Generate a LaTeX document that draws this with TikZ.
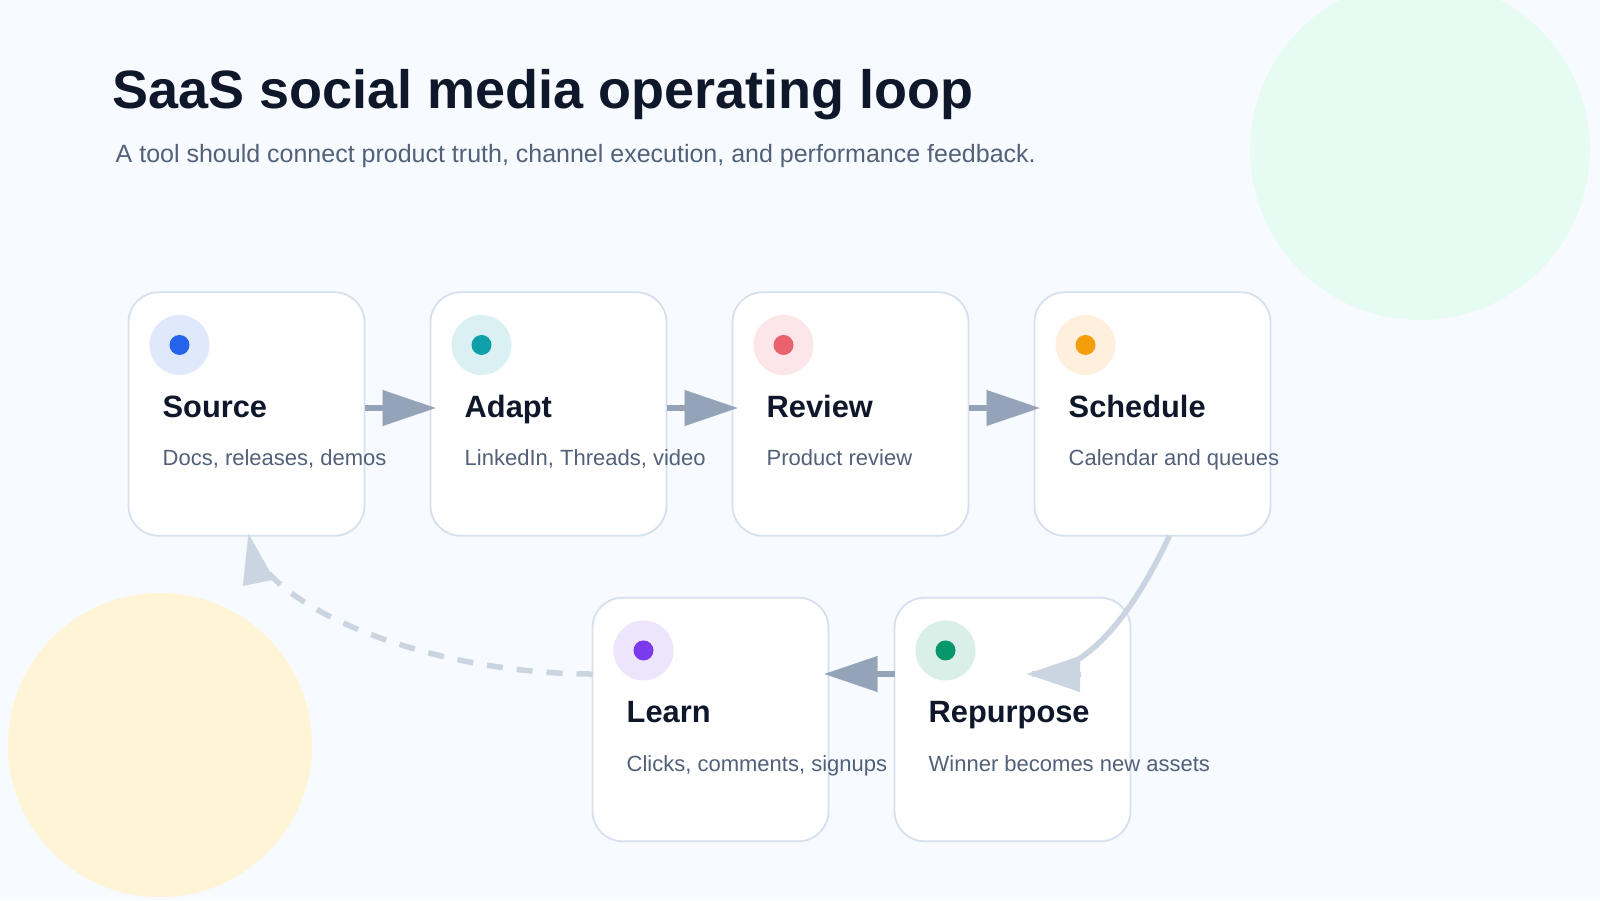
\documentclass[tikz,border=0pt]{standalone}
\usepackage{fontspec}
\setmainfont{Liberation Sans}
\usetikzlibrary{arrows.meta, positioning, calc}

\definecolor{pagebg}{HTML}{F7FAFF}
\definecolor{cardline}{HTML}{D6E0EE}
\definecolor{ink}{HTML}{0F172A}
\definecolor{muted}{HTML}{526179}
\definecolor{flowgray}{HTML}{94A3B8}
\definecolor{loopgray}{HTML}{CBD5E1}
\definecolor{mintblob}{HTML}{E6FCF3}
\definecolor{sandblob}{HTML}{FFF4D6}
\definecolor{blueSoft}{HTML}{E0E8FB}
\definecolor{blueDot}{HTML}{2563EB}
\definecolor{tealSoft}{HTML}{DAF0F2}
\definecolor{tealDot}{HTML}{0E9FAA}
\definecolor{roseSoft}{HTML}{FCE6E9}
\definecolor{roseDot}{HTML}{E9636F}
\definecolor{amberSoft}{HTML}{FEF0DC}
\definecolor{amberDot}{HTML}{F59E0B}
\definecolor{violetSoft}{HTML}{EDE5FB}
\definecolor{violetDot}{HTML}{7C3AED}
\definecolor{greenSoft}{HTML}{D9EFE8}
\definecolor{greenDot}{HTML}{059669}

\begin{document}
\begin{tikzpicture}[x=1pt, y=-1pt,
    card/.style={draw=cardline, line width=1.8pt, fill=white, rounded corners=30pt,
      minimum width=236pt, minimum height=243.5pt, inner sep=0pt, outer sep=0pt},
    iconring/.style={circle, minimum size=60pt, inner sep=0pt},
    icondot/.style={circle, minimum size=20pt, inner sep=0pt},
    cardtitle/.style={anchor=base west, inner sep=0pt, text=ink, font=\fontsize{30.8}{36}\selectfont\bfseries},
    carddesc/.style={anchor=base west, inner sep=0pt, text=muted, font=\fontsize{22}{26}\selectfont},
    flow/.style={draw=flowgray, line width=6pt, -{Triangle[length=53pt, width=36pt, line width=0.1pt]}},
    loopline/.style={draw=loopgray, line width=5.5pt},
    loophead/.style={draw=loopgray, line width=5pt, -{Triangle[length=53pt, width=36pt, line width=0.1pt]}},
    backhead/.style={draw=loopgray, line width=5pt, -{Triangle[length=50pt, width=32pt, line width=0.1pt]}}
  ]
  % page and soft blobs
  \useasboundingbox (0,0) rectangle (1600,900);
  \clip (0,0) rectangle (1600,900);
  \fill[pagebg] (0,0) rectangle (1600,900);
  \fill[mintblob] (1420,150) circle[radius=170pt];
  \fill[sandblob] (160,745) circle[radius=152pt];

  % heading
  \node[anchor=base west, inner sep=0pt, text=ink, font=\fontsize{54}{60}\selectfont\bfseries] (heading) at (112,108.5) {SaaS social media operating loop};
  \node[anchor=base west, inner sep=0pt, text=muted, font=\fontsize{25}{30}\selectfont] (subheading) at (115.5,162) {A tool should connect product truth, channel execution, and performance feedback.};

  % cards
  \node[card] (src) at (246.5,414) {};
  \node[card, right=66pt of src] (ada) {};
  \node[card, right=66pt of ada] (rev) {};
  \node[card, right=66pt of rev] (sch) {};
  \node[card] (lrn) at (710.5,719.5) {};
  \node[card, right=66pt of lrn] (rep) {};

  \foreach \card/\ttl/\soft/\hard/\cardtxt in {
      src/Source/blueSoft/blueDot/{Docs, releases, demos},
      ada/Adapt/tealSoft/tealDot/{LinkedIn, Threads, video},
      rev/Review/roseSoft/roseDot/{Product review},
      sch/Schedule/amberSoft/amberDot/{Calendar and queues},
      lrn/Learn/violetSoft/violetDot/{Clicks, comments, signups},
      rep/Repurpose/greenSoft/greenDot/{Winner becomes new assets}}{
    \node[iconring, fill=\soft] (\card-ring) at ($(\card.north west)+(51,52.7)$) {};
    \node[icondot, fill=\hard] (\card-dot) at (\card-ring) {};
    \node[cardtitle] (\card-title) at ($(\card.north west)+(34,125.2)$) {\ttl};
    \node[carddesc] (\card-desc) at ($(\card.north west)+(34,173.7)$) {\cardtxt};
  }

  % straight steps
  \draw[flow] ([yshift=6pt]src.east) -- ([xshift=5pt,yshift=6pt]ada.west);
  \draw[flow] ([yshift=6pt]ada.east) -- ([xshift=5pt,yshift=6pt]rev.west);
  \draw[flow] ([yshift=6pt]rev.east) -- ([xshift=5pt,yshift=6pt]sch.west);
  \draw[flow] ([yshift=45.5pt]rep.west) -- ([xshift=-4pt,yshift=45.5pt]lrn.east);

  % schedule down to repurpose
  \coordinate (rep-in) at ([xshift=14.5pt,yshift=45.5pt]rep.center);
  \draw[loopline] ([xshift=17pt]sch.south) .. controls +(-43,91) and +(48.7,0) .. ([xshift=5pt]rep-in);
  \draw[loophead] ([xshift=53pt]rep-in) -- (rep-in);

  % feedback back to source
  \coordinate (src-in) at ([xshift=2pt,yshift=2pt]src.south);
  \draw[loopline, dash pattern=on 16pt off 14pt] ([yshift=45.5pt]lrn.west) .. controls +(-162.5,0) and +(13.5,69) .. ([xshift=1pt,yshift=-5pt]src-in);
  \draw[backhead] ([xshift=10pt,yshift=-48.8pt]src-in) -- (src-in);
\end{tikzpicture}
\end{document}
